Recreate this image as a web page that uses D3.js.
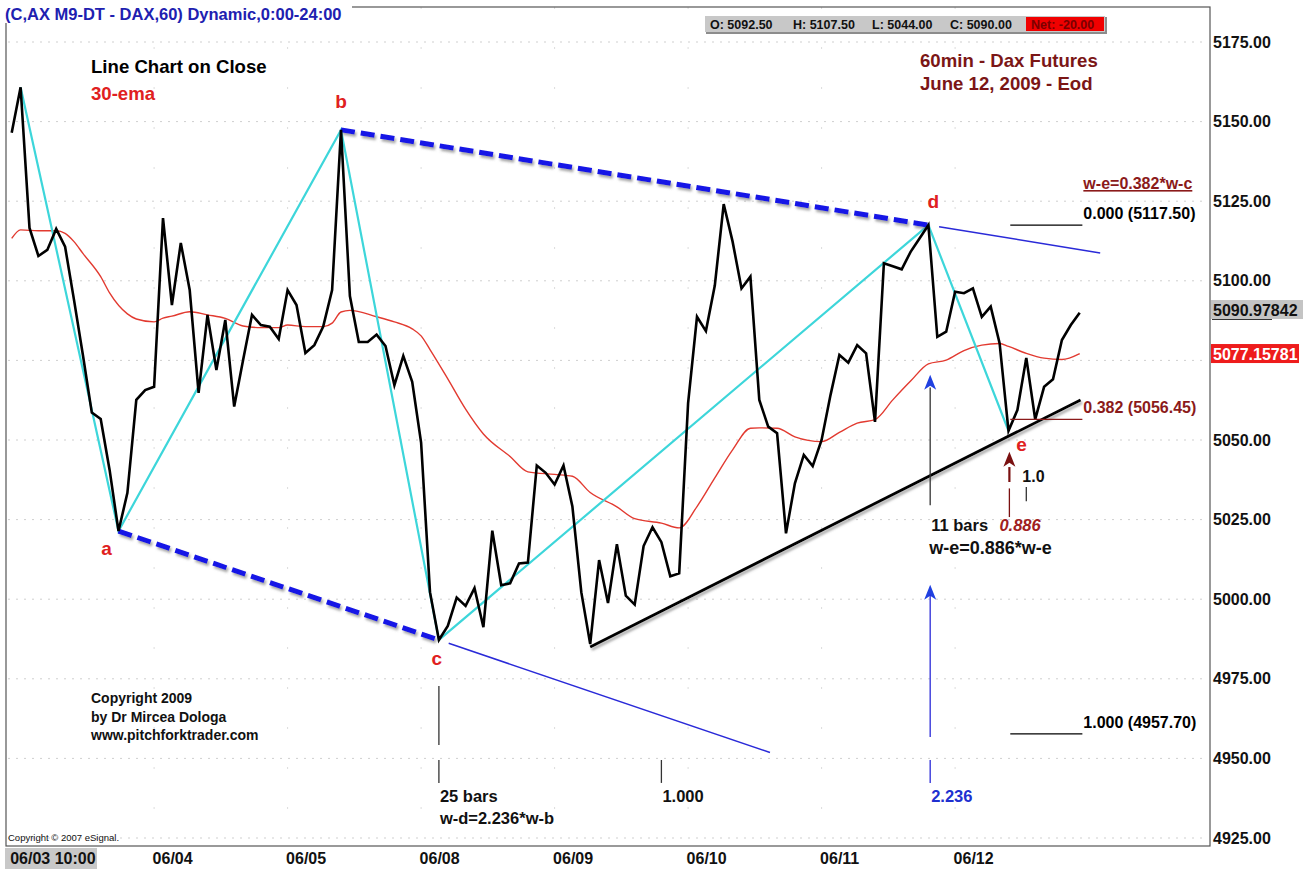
<!DOCTYPE html>
<html><head><meta charset="utf-8">
<script src="https://cdn.jsdelivr.net/npm/d3@7/dist/d3.min.js"></script>
<style>
html,body{margin:0;padding:0;background:#fff;}
svg{display:block;font-family:"Liberation Sans",Arial,Helvetica,sans-serif;}
</style></head><body>
<svg id="c" width="1313" height="888"></svg>
<script>
// ---------------- DATA ----------------
const closes = [
5146.5,5160.8,5116.6,5107.8,5109.7,5116.3,5110.7,5094.0,5076.7,5058.6,
5056.6,5040.6,5021.4,5033.4,5062.6,5065.7,5066.7,5119.7,5092.4,5111.9,
5097.1,5064.8,5089.3,5072.0,5087.7,5060.5,5075.1,5089.3,5086.1,5085.6,
5081.7,5097.1,5092.4,5077.3,5079.8,5085.6,5097.1,5147.4,5095.2,5080.8,
5080.8,5083.1,5079.5,5067.2,5076.4,5068.3,5049.2,5002.2,4987.2,4991.6,
5000.5,4997.9,5003.5,4991.2,5021.5,5004.4,5005.0,5011.2,5011.5,5042.0,
5039.7,5036.0,5042.0,5029.1,5002.2,4985.9,5012.3,4998.8,5017.3,5001.1,
4998.3,5016.7,5022.6,5017.9,5007.2,5008.1,5061.6,5088.7,5084.2,5098.5,
5124.1,5112.3,5097.6,5101.3,5062.6,5054.2,5052.1,5020.7,5036.4,5045.3,
5041.8,5050.0,5064.1,5076.7,5074.3,5079.8,5077.2,5055.7,5105.5,5104.6,
5103.6,5109.1,5113.3,5117.5,5082.4,5084.0,5096.6,5096.1,5097.6,5088.7,
5091.9,5080.4,5052.9,5059.4,5075.8,5056.5,5066.7,5069.1,5081.4,5086.1,
5090.0];

// 30-ema (bar index, value)
const emaIdx = [0,1,3,5,6,7,8,10,11,13,14,16,17,18,20,22,24,26,28,30,31,33,35,36,37,38,41,43,45,46,47,49,51,53,56,58,61,63,65,68,70,73,75,77,79,81,83,84,86,88,91,93,95,97,99,101,103,105,107,109,111,112,114,116,118,120];
const emaVal = [5113.3,5116.0,5115.7,5115.7,5114.9,5112.3,5108.6,5101.3,5096.2,5089.6,5088.0,5087.1,5088.3,5088.9,5090.3,5089.3,5088.2,5085.8,5085.3,5085.3,5086.1,5085.6,5085.6,5086.7,5090.2,5090.7,5088.7,5087.1,5084.9,5082.7,5078.4,5069.2,5059.7,5051.9,5044.8,5040.0,5039.2,5038.6,5033.5,5029.0,5025.3,5023.9,5022.4,5029.1,5038.1,5046.9,5053.7,5053.8,5053.7,5051.0,5049.5,5052.4,5055.3,5056.4,5062.6,5068.5,5073.9,5075.1,5078.1,5079.8,5080.3,5079.4,5077.2,5075.7,5075.3,5077.16];

const pivotLabels = ["a","b","c","d","e"];
const pivotIdx = [12,37,48,103,112];
const zigzagIdx = [1,12,37,48,103,112];

const dateTickIdx = [0,16,31,46,61,76,91,106];
const dateTickLabels = ["06/03 10:00","06/04","06/05","06/08","06/09","06/10","06/11","06/12"];

// 5075 is hidden behind the ema price box in the reference
const priceTicks = [4925,4950,4975,5000,5025,5050,5100,5125,5150,5175];
const gridPrices = [4925,4950,4975,5000,5025,5050,5075,5100,5125,5150,5175];

const fibRatios = ["0.000","0.382","1.000"];
const fibPrices = [5117.50,5056.45,4957.70];

const trendIdx = [65,120.1];
const trendVal = [4985.0,5062.6];

const ohlcLabels = ["O: 5092.50","H: 5107.50","L: 5044.00","C: 5090.00"];
const netLabel = "Net: -20.00";
const lastPrice = 5090.97842;
const emaLast = 5077.15781;

// ---------------- DRAW ----------------
const svg = d3.select("#c");
const W = 1313, H = 888;
const x = d3.scaleLinear().domain([0,120]).range([11.7, 11.7 + 120*8.9]);
const y = d3.scaleLinear().domain([4925,5175]).range([838,42]);
const frame = {l:6, t:7, r:1210, b:846};

const defs = svg.append("defs");
const f = defs.append("filter").attr("id","sh").attr("x","-5%").attr("y","-20%").attr("width","110%").attr("height","140%");
f.append("feDropShadow").attr("dx",1.5).attr("dy",2.5).attr("stdDeviation",1.2).attr("flood-color","#777").attr("flood-opacity",0.65);
defs.append("clipPath").attr("id","plot").append("rect")
  .attr("x",frame.l).attr("y",frame.t).attr("width",frame.r-frame.l).attr("height",frame.b-frame.t);

svg.append("rect").attr("width",W).attr("height",H).attr("fill","#fff");

// grid
const grid = svg.append("g");
grid.selectAll("line.h").data(gridPrices).join("line")
  .attr("x1",frame.l+2).attr("x2",frame.r-2).attr("y1",d=>y(d)).attr("y2",d=>y(d))
  .attr("stroke","#cfcfcf").attr("stroke-width",1).attr("stroke-dasharray","2,6");
grid.selectAll("line.v").data(dateTickIdx.slice(1)).join("line")
  .attr("x1",d=>x(d)).attr("x2",d=>x(d)).attr("y1",frame.t).attr("y2",frame.b)
  .attr("stroke","#dcdcdc").attr("stroke-width",1).attr("stroke-dasharray","2,38");

// frame
svg.append("rect").attr("x",frame.l).attr("y",frame.t).attr("width",frame.r-frame.l).attr("height",frame.b-frame.t)
  .attr("fill","none").attr("stroke","#555").attr("stroke-width",1.2);

const plot = svg.append("g").attr("clip-path","url(#plot)");

// EMA
const emaPts = emaIdx.map((d,i)=>[d,emaVal[i]]);
plot.append("path").datum(emaPts)
  .attr("d", d3.line().x(d=>x(d[0])).y(d=>y(d[1])).curve(d3.curveMonotoneX))
  .attr("fill","none").attr("stroke","#e23a30").attr("stroke-width",1.4);

// zigzag cyan
plot.append("path").datum(zigzagIdx)
  .attr("d", d3.line().x(d=>x(d)).y(d=>y(closes[d])))
  .attr("fill","none").attr("stroke","#3dd6da").attr("stroke-width",2.2);

// extension thin blue lines
function extLine(i0,i1,fromI,toI){
  const v0=closes[i0], v1=closes[i1], s=(v1-v0)/(i1-i0);
  return [[fromI, v1 + s*(fromI-i1)],[toI, v1 + s*(toI-i1)]];
}
const lineXY = d3.line().x(d=>x(d[0])).y(d=>y(d[1]));
plot.append("path").datum(extLine(37,103,104.2,122.3)).attr("d",lineXY)
  .attr("stroke","#2a2ad8").attr("stroke-width",1.5).attr("fill","none");
plot.append("path").datum(extLine(12,48,49.1,85.2)).attr("d",lineXY)
  .attr("stroke","#2a2ad8").attr("stroke-width",1.5).attr("fill","none");

// dashed blue a-c and b-d
[[12,48],[37,103]].forEach(p=>{
  plot.append("path").datum(p.map(i=>[i,closes[i]])).attr("d",lineXY)
    .attr("stroke","#1414e6").attr("stroke-width",5).attr("fill","none")
    .attr("stroke-dasharray","14,6").attr("filter","url(#sh)");
});

// black trend line
plot.append("path").datum(trendIdx.map((d,i)=>[d,trendVal[i]])).attr("d",lineXY)
  .attr("stroke","#000").attr("stroke-width",2.8).attr("fill","none").attr("filter","url(#sh)");

// close line
plot.append("path").datum(closes)
  .attr("d", d3.line().x((d,i)=>x(i)).y(d=>y(d)))
  .attr("fill","none").attr("stroke","#000").attr("stroke-width",2.6).attr("stroke-linejoin","miter");

// fib levels
const fibColor = ["#000","#8b1a1a","#000"];
fibPrices.forEach((p,i)=>{
  plot.append("line").attr("x1",x(112.2)).attr("x2",x(120.3)).attr("y1",y(p)).attr("y2",y(p))
    .attr("stroke",fibColor[i]).attr("stroke-width",1.2);
  svg.append("text").attr("x",x(120.3)+1).attr("y",y(p)-6)
    .attr("font-size",16).attr("font-weight","bold").attr("fill",fibColor[i])
    .text(fibRatios[i]+" ("+p.toFixed(2)+")");
});
svg.append("text").attr("x",x(120.3)+1).attr("y",189)
  .attr("font-size",16).attr("font-weight","bold").attr("fill","#8b1a1a")
  .attr("text-decoration","underline").text("w-e=0.382*w-c");

// time annotations
function vseg(i,p0,p1,color,w,dash){
  plot.append("line").attr("x1",x(i)).attr("x2",x(i)).attr("y1",y(p0)).attr("y2",y(p1))
    .attr("stroke",color).attr("stroke-width",w||1.2).attr("stroke-dasharray",dash||null);
}
function arrowHead(i,pTip,color){
  const cx=x(i), ty=y(pTip);
  plot.append("path").attr("d",`M${cx},${ty} L${cx-6},${ty+15} L${cx},${ty+11} L${cx+6},${ty+15} Z`).attr("fill",color);
}
// c ruler
vseg(48,4972.7,4954.2,"#333",1.3);
vseg(48,4949.5,4942.3,"#333",1.3);
vseg(73,4949.5,4942.3,"#333",1.3);
vseg(103.2,4949.5,4942.3,"#2a2ad8",1.3);
// 2.236 blue arrow
arrowHead(103.2,5004.5,"#2040e0");
vseg(103.2,5001.5,4956.7,"#2a2ad8",1.3);
// d upper arrow
arrowHead(103.2,5070.5,"#2040e0");
vseg(103.2,5066.5,5029.5,"#333",1.3);
// e dark red arrow
arrowHead(112.1,5046.3,"#7a1010");
vseg(112.1,5041.5,5036.8,"#7a1010",2.2);
vseg(112.1,5034.8,5025.8,"#7a1010",1.3);
// 1.0 tick
vseg(114,5035.2,5030.8,"#333",1.3);

// ---------- texts ----------
function txt(t,tx,ty,size,color,opt){
  opt=opt||{};
  return svg.append("text").attr("x",tx).attr("y",ty).attr("font-size",size)
    .attr("font-weight",opt.w||"bold").attr("fill",color)
    .attr("font-style",opt.i?"italic":null).attr("text-anchor",opt.a||"start").text(t);
}
// pivot labels
const pivotOff = [[-12,24],[0,-22],[-2,25],[5,-17],[13,20]];
pivotLabels.forEach((l,k)=>{
  const i=pivotIdx[k];
  txt(l, x(i)+pivotOff[k][0], y(closes[i])+pivotOff[k][1], 19, "#e02020",{a:"middle"});
});

txt("Line Chart on Close",91,72.5,18.6,"#000");
txt("30-ema",91,99.5,18.6,"#e02020");
txt("60min - Dax Futures",920,66.5,18.6,"#7b1616");
txt("June 12, 2009 - Eod",920,89.5,18.6,"#7b1616");
txt("Copyright 2009",91,703,14,"#111");
txt("by Dr Mircea Dologa",91,722,14,"#111");
txt("www.pitchforktrader.com",91,740,14,"#111");
txt("25  bars",x(48)+1,802,16.5,"#111");
txt("w-d=2.236*w-b",x(48)+1,824,16.5,"#111");
txt("1.000",x(73)+1,802,16.5,"#111");
txt("2.236",x(103.2)+1,802,16.5,"#2030d0");
txt("11  bars",x(103.2)+1,531,16.5,"#111");
txt("0.886",x(112.1)-10,531,16.5,"#a02020",{i:true});
txt("w-e=0.886*w-e",x(103.2)-1,554,18,"#111");
txt("1.0",x(114)-4,482,16,"#111");
txt("Copyright \u00a9 2007 eSignal.",8,841,9.5,"#111",{w:"normal"});

// title
svg.append("rect").attr("x",0).attr("y",0).attr("width",352).attr("height",23).attr("fill","#fff");
txt("(C,AX M9-DT - DAX,60) Dynamic,0:00-24:00",5,20,16.5,"#2020b0");

// OHLC box
svg.append("rect").attr("x",706).attr("y",17).attr("width",401).attr("height",17).attr("fill","#8c8c8c");
svg.append("rect").attr("x",705).attr("y",16).attr("width",400).attr("height",16).attr("fill","#c8c8c8");
svg.append("rect").attr("x",1026).attr("y",17).attr("width",78).attr("height",14).attr("fill","#f00000");
const ohlcX = [710,793,872,950];
ohlcLabels.forEach((t,i)=>txt(t,ohlcX[i],29,12.5,"#111"));
txt(netLabel,1031,29,12.5,"#7a0000");

// y axis
const yAxis = svg.append("g").attr("transform",`translate(${frame.r},0)`)
  .call(d3.axisRight(y).tickValues(priceTicks).tickFormat(d3.format(".2f")).tickSize(0).tickPadding(3));
yAxis.select(".domain").remove();
yAxis.selectAll("text").attr("font-size",16).attr("font-weight","bold").attr("fill","#111")
  .attr("font-family","'Liberation Sans',Arial,sans-serif");

// last price boxes
svg.append("rect").attr("x",frame.r+1).attr("y",y(lastPrice)-9.5).attr("width",92).attr("height",19).attr("fill","#c4c4c4");
svg.append("line").attr("x1",frame.r+2).attr("x2",frame.r+62).attr("y1",y(lastPrice)+10).attr("y2",y(lastPrice)+10).attr("stroke","#333").attr("stroke-width",1.2);
txt(String(lastPrice),frame.r+3,y(lastPrice)+6,16,"#111");
svg.append("rect").attr("x",frame.r+1).attr("y",y(emaLast)-9.5).attr("width",88).attr("height",19).attr("fill","#ee1c1c");
txt(String(emaLast),frame.r+3,y(emaLast)+6,16,"#fff");

// x axis labels
svg.append("rect").attr("x",5).attr("y",848).attr("width",92).attr("height",21).attr("fill","#c8c8c8");
const xAxis = svg.append("g").attr("transform",`translate(0,${frame.b})`)
  .call(d3.axisBottom(x).tickValues(dateTickIdx).tickFormat((d,i)=>dateTickLabels[i]).tickSize(0).tickPadding(0));
xAxis.select(".domain").remove();
xAxis.selectAll("text").attr("font-size",16).attr("font-weight","bold").attr("fill","#111")
  .attr("text-anchor","start").attr("dy",null).attr("y",18).attr("dx",-2)
  .attr("font-family","'Liberation Sans',Arial,sans-serif");
</script>
</body></html>
